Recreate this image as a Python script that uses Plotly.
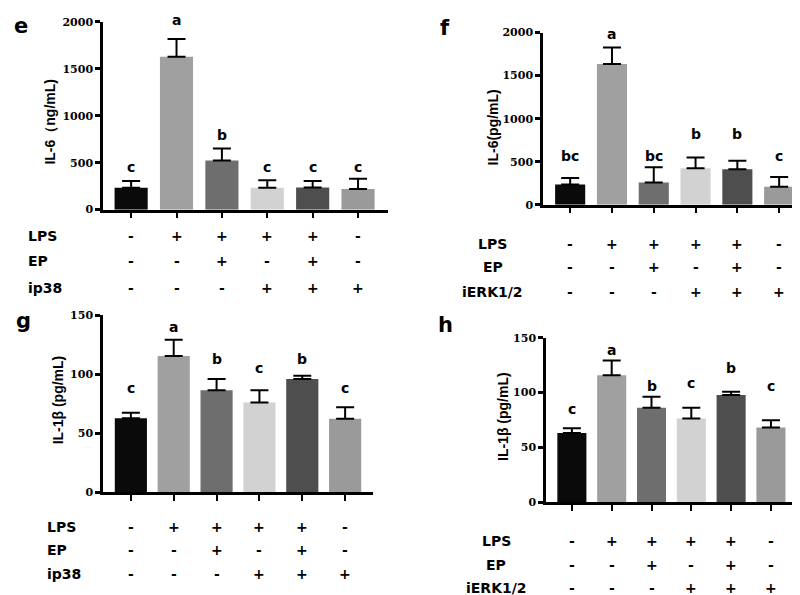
import plotly.graph_objects as go

# ---------------- data ----------------
groups = [0, 1, 2, 3, 4, 5]
bar_colors = ['#0a0a0a', '#a0a0a0', '#6e6e6e', '#d2d2d2', '#4e4e4e', '#9a9a9a']

# panel e : IL-6 (ng/mL), ip38
e_mean = [233, 1628, 522, 233, 236, 219]
e_err = [73, 188, 128, 80, 70, 111]
e_letters = ['c', 'a', 'b', 'c', 'c', 'c']
e_letter_y = [452, 2020, 800, 452, 452, 452]

# panel f : IL-6 (pg/mL), iERK1/2
f_mean = [235, 1636, 258, 424, 413, 208]
f_err = [76, 190, 178, 125, 98, 114]
f_letters = ['bc', 'a', 'bc', 'b', 'b', 'c']
f_letter_y = [568, 1989, 568, 822, 822, 568]

# panel g : IL-1b, ip38
g_mean = [62.8, 115.4, 86.4, 76.1, 96.0, 62.3]
g_err = [4.7, 13.9, 9.6, 10.3, 2.8, 9.7]
g_letters = ['c', 'a', 'b', 'c', 'b', 'c']
g_letter_y = [88.6, 140.3, 112.6, 105.7, 112.6, 88.6]

# panel h : IL-1b, iERK1/2
h_mean = [63.0, 115.8, 86.1, 76.3, 97.7, 68.0]
h_err = [4.4, 13.4, 10.1, 9.8, 3.0, 6.8]
h_letters = ['c', 'a', 'b', 'c', 'b', 'c']
h_letter_y = [84.6, 138.7, 106.0, 109.0, 122.4, 106.0]

lps = ['-', '+', '+', '+', '+', '-']
ep = ['-', '-', '+', '-', '+', '-']
inhib = ['-', '-', '-', '+', '+', '+']

il6_ticks = [0, 500, 1000, 1500, 2000]
il1_ticks = [0, 50, 100, 150]

# ---------------- layout helpers ----------------
W, H = 800, 595


def xdom(a, b):
    return [a / W, b / W]


def ydom(top, bottom):
    return [1 - bottom / H, 1 - top / H]


def py(pix):
    return 1 - pix / H


SANS = 'DejaVu Sans'
SERIF = 'DejaVu Serif'

panels = [
    dict(tag='e', mean=e_mean, err=e_err, letters=e_letters, letter_y=e_letter_y,
         ticks=il6_ticks, title='IL-6（ng/mL)', inhib='ip38',
         xpx=(95, 380), ypx=(8, 200), xr=(-0.62, 5.66), bw=0.73,
         title_xy=(42, 110), tag_xy=(13, 12),
         rows_y=(227, 253, 280), row_lab_x=18, row_anchor='left'),
    dict(tag='f', mean=f_mean, err=f_err, letters=f_letters, letter_y=f_letter_y,
         ticks=il6_ticks, title='IL-6(pg/mL)', inhib='iERK1/2',
         xpx=(535, 800), ypx=(19, 195), xr=(-0.65, 5.69), bw=0.72,
         title_xy=(485, 116), tag_xy=(437, 14),
         rows_y=(235, 259, 284), row_lab_x=485, row_anchor='center'),
    dict(tag='g', mean=g_mean, err=g_err, letters=g_letters, letter_y=g_letter_y,
         ticks=il1_ticks, title='IL-1β (pg/mL)', inhib='ip38',
         xpx=(95, 365), ypx=(308, 489), xr=(-0.65, 5.65), bw=0.75,
         title_xy=(50, 395), tag_xy=(15, 314),
         rows_y=(524, 548, 572), row_lab_x=37, row_anchor='left'),
    dict(tag='h', mean=h_mean, err=h_err, letters=h_letters, letter_y=h_letter_y,
         ticks=il1_ticks, title='IL-1β (pg/mL)', inhib='iERK1/2',
         xpx=(538, 790), ypx=(331, 499), xr=(-0.65, 5.68), bw=0.73,
         title_xy=(495, 412), tag_xy=(437, 318),
         rows_y=(539, 563, 587), row_lab_x=488, row_anchor='center'),
]

fig = go.Figure()
annotations = []
layout = dict(
    width=W, height=H, margin=dict(l=0, r=0, t=0, b=0),
    paper_bgcolor='white', plot_bgcolor='white', showlegend=False,
)

for i, p in enumerate(panels):
    n = '' if i == 0 else str(i + 1)
    xa, ya = 'x' + n, 'y' + n
    fig.add_trace(go.Bar(
        x=groups, y=p['mean'], width=p['bw'], xaxis=xa, yaxis=ya,
        marker=dict(color=bar_colors, line=dict(width=0)),
        error_y=dict(type='data', array=p['err'], arrayminus=[0] * 6,
                     symmetric=False, color='black', thickness=2, width=9),
    ))
    ymax = p['ticks'][-1]
    yd = ydom(*p['ypx'])
    layout['xaxis' + n] = dict(
        domain=xdom(*p['xpx']), anchor=ya, range=list(p['xr']),
        showline=True, linewidth=2.5, linecolor='black', mirror=False,
        ticks='outside', ticklen=6, tickwidth=2, tickcolor='black',
        tickvals=groups, ticktext=[''] * 6, showgrid=False, zeroline=False,
    )
    layout['yaxis' + n] = dict(
        domain=yd, anchor=xa, range=[0, ymax],
        showline=True, linewidth=2.5, linecolor='black',
        ticks='outside', ticklen=5, tickwidth=2.5, tickcolor='black',
        tickvals=p['ticks'], ticktext=[str(t) for t in p['ticks']],
        tickfont=dict(family=SERIF, size=11, color='black', weight='bold'),
        showgrid=False, zeroline=False,
    )
    # significance letters (paper y derived from data value)
    for gx, lt, ly in zip(groups, p['letters'], p['letter_y']):
        annotations.append(dict(
            text=lt, xref=xa, yref='paper', x=gx,
            y=yd[0] + (ly / ymax) * (yd[1] - yd[0]),
            showarrow=False, xanchor='center', yanchor='middle',
            font=dict(family=SANS, size=14, color='black', weight='bold'),
        ))
    # y title
    annotations.append(dict(
        text=p['title'], xref='paper', yref='paper',
        x=p['title_xy'][0] / W, y=py(p['title_xy'][1]), textangle=-90,
        showarrow=False, xanchor='center', yanchor='middle',
        font=dict(family='Liberation Sans', size=14, color='black', weight='bold'),
    ))
    # panel tag
    annotations.append(dict(
        text=p['tag'], xref='paper', yref='paper',
        x=p['tag_xy'][0] / W, y=py(p['tag_xy'][1]),
        showarrow=False, xanchor='center', yanchor='middle',
        font=dict(family=SANS, size=21, color='black', weight='bold'),
    ))
    # treatment rows
    row_names = ['LPS', 'EP', p['inhib']]
    row_vals = [lps, ep, inhib]
    for rname, rvals, rpix in zip(row_names, row_vals, p['rows_y']):
        annotations.append(dict(
            text=rname, xref='paper', yref='paper',
            x=p['row_lab_x'] / W, y=py(rpix), showarrow=False,
            xanchor=p['row_anchor'], yanchor='middle',
            font=dict(family=SANS, size=14, color='black', weight='bold'),
        ))
        for gx, sign in zip(groups, rvals):
            annotations.append(dict(
                text=sign, xref=xa, yref='paper', x=gx, y=py(rpix),
                showarrow=False, xanchor='center', yanchor='middle',
                font=dict(family=SANS, size=14, color='black', weight='bold'),
            ))

layout['annotations'] = annotations
fig.update_layout(**layout)
fig.write_html('out.html')
